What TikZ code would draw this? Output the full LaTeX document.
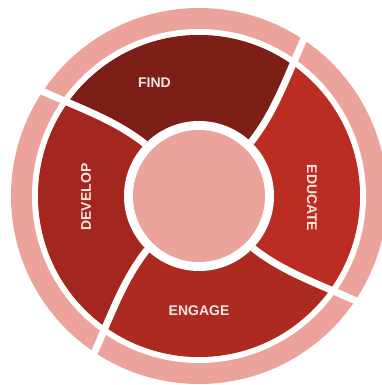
\documentclass[tikz,border=0pt]{standalone}
\usepackage{fontspec}
\setmainfont{Liberation Sans}
\definecolor{ringpink}{HTML}{ECA39B}
\definecolor{findred}{HTML}{7E1F17}
\definecolor{educred}{HTML}{BB2D22}
\definecolor{engred}{HTML}{AD2A20}
\definecolor{devred}{HTML}{A3271E}
\definecolor{labelcol}{HTML}{F4E4E2}
\tikzset{
  separator/.style={draw=white, line width=7pt},
  steplabel/.style={text=labelcol, font=\bfseries\fontsize{14}{14}\selectfont, inner sep=0pt}
}
\begin{document}
\begin{tikzpicture}[x=1pt,y=1pt]
  \useasboundingbox (0,0) rectangle (382,385);
  \begin{scope}
    \clip (0,0) rectangle (382,385);
    \begin{scope}[shift={(199,189)}]
      % outer light ring and the white gap inside it
      \fill[ringpink] (0,0) circle (188pt);
      \draw[white, line width=6pt] (0,0) circle (164pt);
      % four coloured segments, bounded by the swirling separators
      \begin{scope}
        \clip (0,0) circle (161pt);
        \foreach \a/\c in {0/educred, 90/findred, 180/devred, 270/engred} {
          \fill[\c, rotate=\a] (0,0) -- (-44:75pt)
            .. controls (-42.07:114.9pt) and (-35.86:152.6pt) .. (-33.5:192pt)
            -- (11.5:260pt) -- (56.5:192pt)
            .. controls (54.14:152.6pt) and (47.93:114.9pt) .. (46:75pt) -- cycle;
        }
      \end{scope}
      % separators, running through the outer ring as well
      \foreach \a in {0,90,180,270} {
        \draw[separator, rotate=\a] (-44:75pt)
          .. controls (-42.07:114.9pt) and (-35.86:152.6pt) .. (-33.5:194pt);
      }
      % hub
      \fill[white] (0,0) circle (75pt);
      \fill[ringpink] (0,0) circle (66pt);
      \coordinate (hub) at (0,0);
    \end{scope}
  \end{scope}
  \node[steplabel] (find) at (154.5,302.5) {FIND};
  \node[steplabel, rotate=-90] (educate) at (312,187) {EDUCATE};
  \node[steplabel] (engage) at (199,74) {ENGAGE};
  \node[steplabel, rotate=90] (develop) at (86,188) {DEVELOP};
\end{tikzpicture}
\end{document}
